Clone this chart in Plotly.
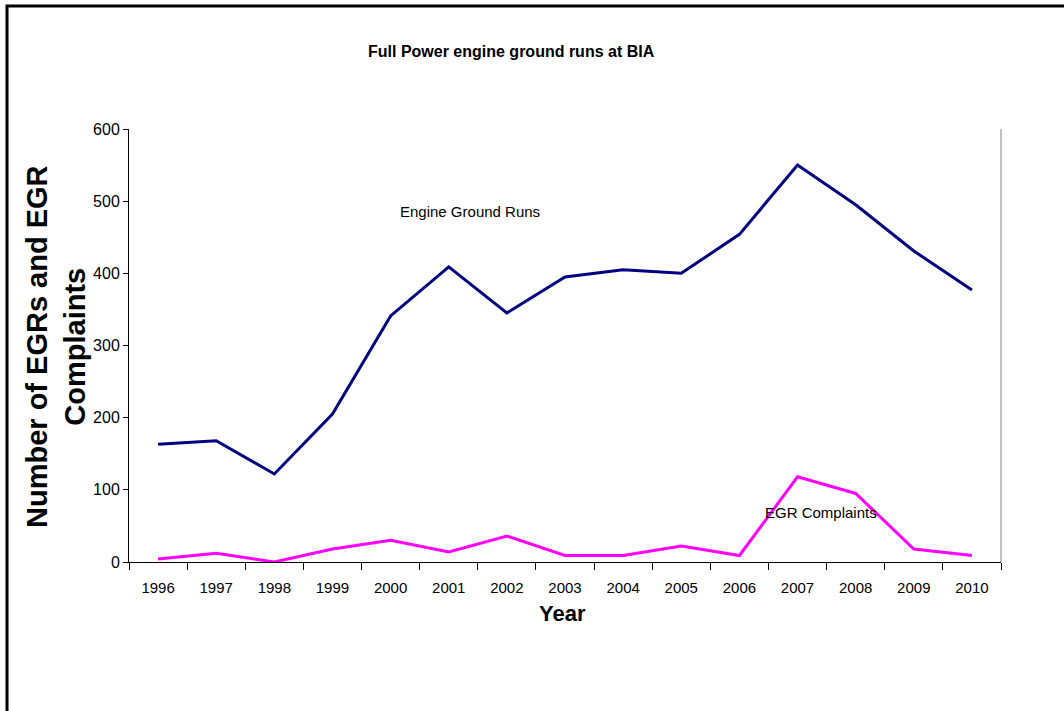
import plotly.graph_objects as go

# Yearly counts
years = ["1996", "1997", "1998", "1999", "2000", "2001", "2002", "2003",
         "2004", "2005", "2006", "2007", "2008", "2009", "2010"]
engine_ground_runs = [163, 168, 122, 205, 341, 409, 345, 395, 405, 400, 454, 550, 495, 431, 377]
egr_complaints = [4, 12, 0, 18, 30, 14, 36, 9, 9, 22, 9, 118, 95, 18, 9]

W, H = 1064, 711
ML, MR, MT, MB = 129, 63, 129, 149
PW, PH = W - ML - MR, H - MT - MB


def px_x(x):
    return (x - ML) / PW


def px_y(y):
    return (H - MB - y) / PH


fig = go.Figure()
fig.add_trace(go.Scatter(x=years, y=engine_ground_runs, mode="lines",
                         line=dict(color="#000080", width=3), name="Engine Ground Runs"))
fig.add_trace(go.Scatter(x=years, y=egr_complaints, mode="lines",
                         line=dict(color="#FF00FF", width=3), name="EGR Complaints"))

SANS = "Liberation Sans, Arial, sans-serif"

fig.update_layout(
    width=W, height=H,
    margin=dict(l=ML, r=MR, t=MT, b=MB, autoexpand=False),
    paper_bgcolor="white", plot_bgcolor="white",
    showlegend=False,
    xaxis=dict(type="category", range=[-0.5, 14.5], tickson="boundaries",
               ticks="outside", ticklen=7, tickcolor="black", tickwidth=1,
               ticklabelstandoff=12,
               showline=True, linecolor="black", linewidth=1,
               showgrid=False, zeroline=False,
               tickfont=dict(family=SANS, size=15, color="black")),
    yaxis=dict(range=[0, 600], tickvals=[0, 100, 200, 300, 400, 500, 600],
               ticks="outside", ticklen=5, tickcolor="black", tickwidth=1,
               showline=True, linecolor="black", linewidth=1,
               showgrid=False, zeroline=False,
               tickfont=dict(family=SANS, size=16, color="black")),
)

# Right edge of the plot area and the outer frame
fig.add_shape(type="line", xref="paper", yref="paper", x0=1, x1=1, y0=0, y1=1,
              line=dict(color="#808080", width=1))
fig.add_shape(type="rect", xref="paper", yref="paper",
              x0=px_x(7), x1=px_x(1100), y0=px_y(6), y1=px_y(760),
              line=dict(color="black", width=3), layer="above")

annotations = [
    dict(text="<b>Full Power engine ground runs at BIA</b>", x=px_x(511), y=px_y(52),
         font=dict(family=SANS, size=16, color="black")),
    dict(text="<b>Number of EGRs and EGR<br>Complaints</b>", x=px_x(56), y=px_y(347),
         textangle=-90, font=dict(family=SANS, size=29, color="black")),
    dict(text="<b>Year</b>", x=px_x(562), y=px_y(613),
         font=dict(family=SANS, size=22, color="black")),
    dict(text="Engine Ground Runs", x=5.37, y=486, xref="x", yref="y",
         font=dict(family=SANS, size=15, color="black")),
    dict(text="EGR Complaints", x=11.4, y=69, xref="x", yref="y",
         font=dict(family=SANS, size=15, color="black")),
]
for a in annotations:
    a.setdefault("xref", "paper")
    a.setdefault("yref", "paper")
    fig.add_annotation(showarrow=False, xanchor="center", yanchor="middle", **a)

fig.write_html("out.html")
